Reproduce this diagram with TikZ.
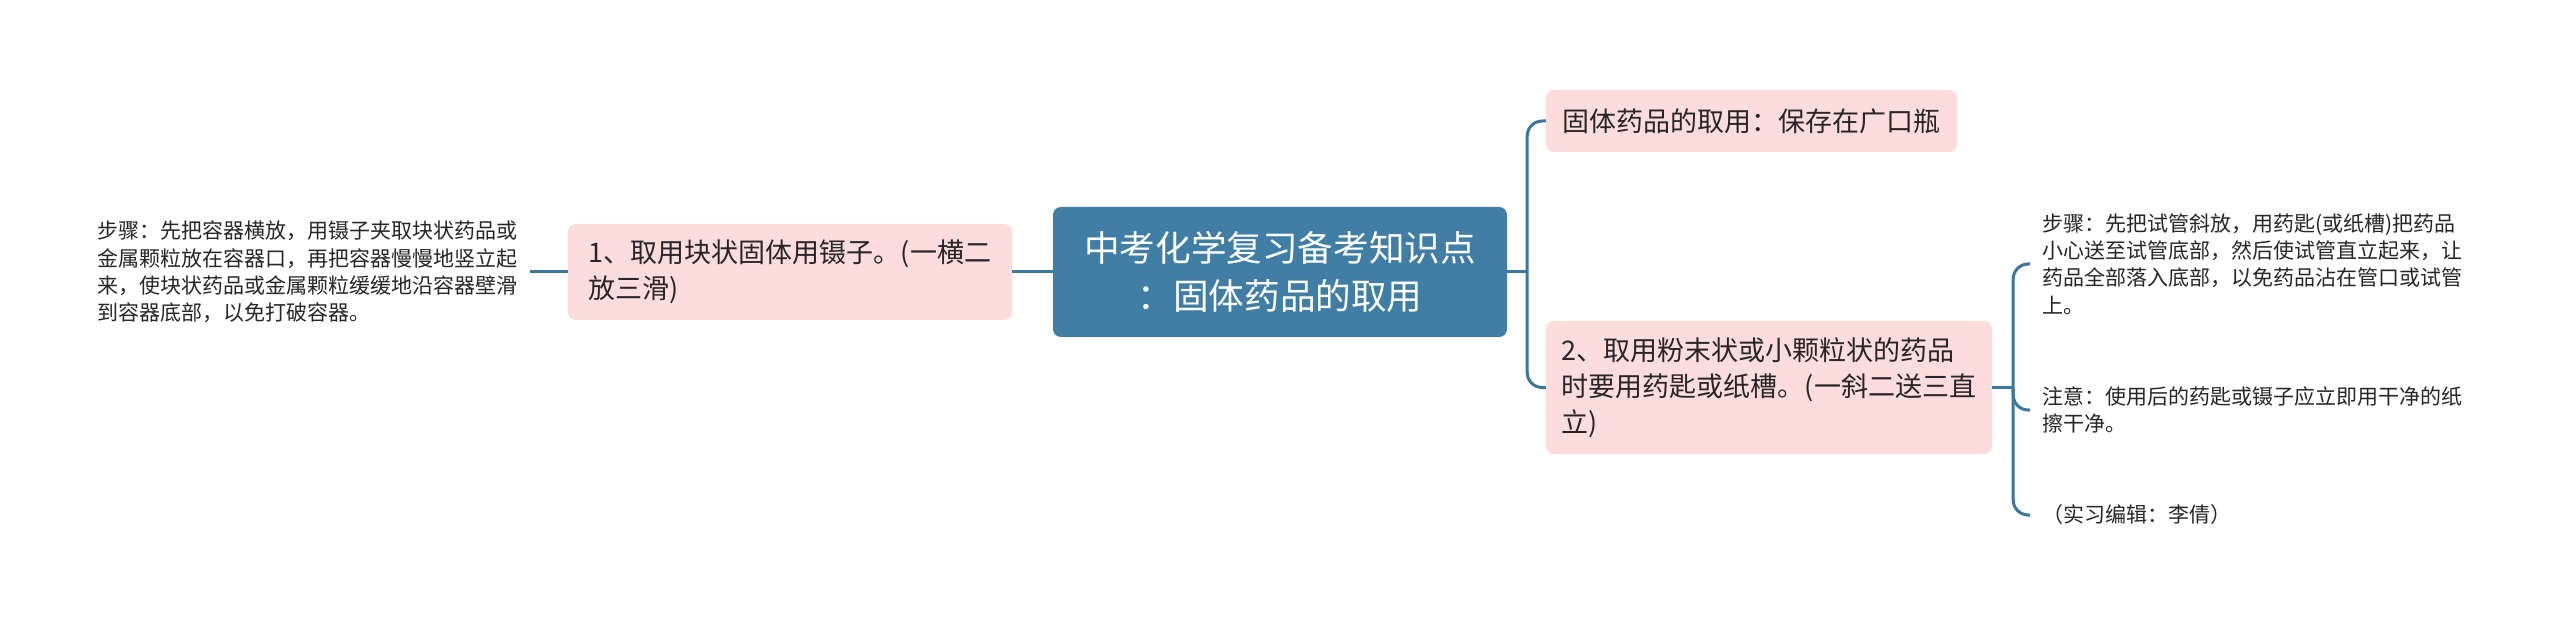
\documentclass[tikz,border=0pt]{standalone}
\usepackage{fontspec}
\setmainfont{Noto Sans CJK SC}
\usetikzlibrary{calc}
\definecolor{mainblue}{RGB}{64,126,165}
\definecolor{linkblue}{RGB}{58,118,158}
\definecolor{pinkfill}{RGB}{252,220,220}
\definecolor{txt}{RGB}{38,38,38}
\begin{document}
\begin{tikzpicture}[x=1pt,y=-1pt,
  rootbox/.style={fill=mainblue, rounded corners=8pt, text=white, align=center, font=\fontsize{35.6}{48}\selectfont, inner sep=0pt},
  topicbox/.style={fill=pinkfill, rounded corners=8pt, text=txt, align=left, font=\fontsize{27}{36}\selectfont, inner sep=0pt},
  leaftext/.style={text=txt, align=left, font=\fontsize{21}{27.3}\selectfont, inner xsep=12pt, inner ysep=0pt},
  conn/.style={draw=linkblue, line width=3pt, rounded corners=15pt}
]
\fill[white] (0,0) rectangle (2560,628);
\useasboundingbox (0,0) rectangle (2560,628);

\node[rootbox, minimum width=454pt, minimum height=130pt] (root) at (1280,272) {中考化学复习备考知识点\\：固体药品的取用};
\node[topicbox, minimum width=444pt, minimum height=96pt] (t1) at (790,272) {1、取用块状固体用镊子。(一横二\\放三滑)};
\node[leaftext, anchor=east] (l1) at (530,272) {步骤：先把容器横放，用镊子夹取块状药品或\\金属颗粒放在容器口，再把容器慢慢地竖立起\\来，使块状药品或金属颗粒缓缓地沿容器壁滑\\到容器底部，以免打破容器。};
\node[topicbox, minimum width=411pt, minimum height=62pt] (t2) at (1751.5,121) {固体药品的取用：保存在广口瓶};
\node[topicbox, minimum width=446pt, minimum height=133pt] (t3) at (1769,387.5) {2、取用粉末状或小颗粒状的药品\\时要用药匙或纸槽。(一斜二送三直\\立)};
\node[leaftext, anchor=west] (l2) at (2030,264) {步骤：先把试管斜放，用药匙(或纸槽)把药品\\小心送至试管底部，然后使试管直立起来，让\\药品全部落入底部，以免药品沾在管口或试管\\上。};
\node[leaftext, anchor=west] (l3) at (2030,410) {注意：使用后的药匙或镊子应立即用干净的纸\\擦干净。};
\node[leaftext, anchor=west] (l4) at (2030,515) {（实习编辑：李倩）};

\coordinate (j1) at ($(root.east)+(20,0)$);
\coordinate (j2) at ($(t3.east)+(21,0)$);

\draw[conn] (root.west) -- (t1.east);
\draw[conn] (t1.west) -- (l1.east);
\draw[conn] (root.east) -- (j1);
\draw[conn] (j1) |- (t2.west);
\draw[conn] (j1) |- (t3.west);
\draw[conn] (t3.east) -- (j2);
\draw[conn] (j2) |- (l2.west);
\draw[conn] (j2) |- (l3.west);
\draw[conn] (j2) |- (l4.west);
\end{tikzpicture}
\end{document}
